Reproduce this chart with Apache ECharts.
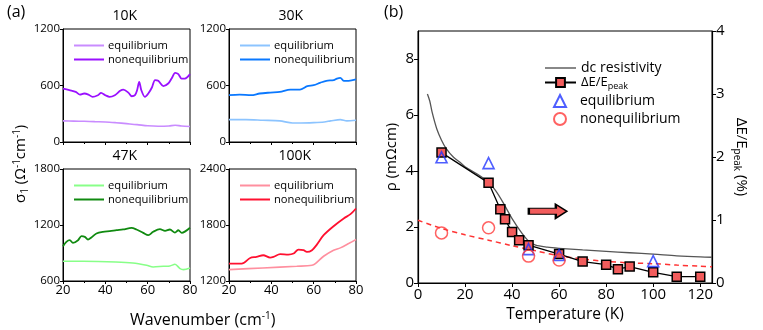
<!DOCTYPE html>
<html>
<head>
<meta charset="utf-8">
<script src="https://cdn.jsdelivr.net/npm/echarts@6/dist/echarts.min.js"></script>
<style>
  html, body { margin: 0; padding: 0; background: #fff; }
  #main { width: 763px; height: 330px; }
</style>
</head>
<body>
<div id="main"></div>
<script>
var dom = document.getElementById('main');
var myChart = echarts.init(dom);
var FONT = 'Open Sans';

// ---- panel (a): sigma_1 vs wavenumber, [wavenumber, sigma] ----
var eq10 = [[20,224],[25,222],[30,220],[35,216],[40,213],[45,205],[50,195],[55,185],[60,172],[65,167],[70,170],[73,178],[76,170],[80,165]];
var neq10 = [[20,568],[23,550],[26,532],[28,504],[30,515],[32,504],[34,479],[36.5,497],[38,522],[40,497],[42,479],[44.5,497],[47,543],[48.5,557],[51,522],[52.5,486],[54,497],[55,550],[56,639],[57,550],[58.7,479],[60.3,515],[62,579],[63.5,657],[65,650],[67.4,593],[69.7,621],[71.3,674],[73,735],[74.5,721],[76,674],[77.6,674],[80,721]];
var eq30 = [[20,238],[28,238],[36,231],[44,224],[50,202],[54,202],[60,206],[65,213],[68,224],[72.6,238],[75.7,224],[80,231]];
var neq30 = [[20,497],[25,504],[30.5,497],[34.5,515],[39.5,525],[44,532],[49,557],[53.5,557],[57,593],[60,604],[63,628],[66,650],[69.5,657],[71,674],[72.6,682],[74.2,650],[76.5,650],[80,664]];
var eq47 = [[20,811],[29.5,811],[45,804],[53,793],[59.5,768],[62.6,750],[67.4,758],[70.5,761],[72.9,779],[75.3,733],[76.9,722],[80,740]];
var neq47 = [[20,972],[21.6,1019],[23.2,1037],[24.7,1008],[27.1,1037],[28.7,1080],[30.3,1073],[31.8,1044],[33.4,1066],[35.8,1109],[38.9,1127],[42.1,1134],[45.3,1144],[48.4,1152],[52.4,1170],[54.7,1152],[57.9,1116],[60.3,1091],[62.6,1127],[65.8,1155],[68.2,1137],[70.5,1152],[72.9,1119],[74.5,1144],[76.1,1116],[80,1170]];
var eq100 = [[20,1322],[36,1340],[52,1358],[59.2,1368],[60.8,1386],[64.7,1465],[69.4,1530],[72.6,1555],[76.5,1601],[80,1644]];
var neq100 = [[20,1386],[26,1386],[30,1447],[33,1458],[36.2,1476],[39.4,1451],[41,1458],[44.2,1487],[48,1483],[50.5,1494],[52.8,1537],[55.2,1530],[56.8,1512],[59.2,1530],[61.5,1590],[64.7,1691],[69.4,1787],[74.2,1870],[77.4,1916],[80,1977]];

var panelTitles = ['10K', '30K', '47K', '100K'];
var panelYMin = [0, 0, 600, 1200];
var panelYMax = [1200, 1200, 1800, 2400];
var panelEq = [eq10, eq30, eq47, eq100];
var panelNeq = [neq10, neq30, neq47, neq100];
var eqColors = ['#c98cff', '#8cc4ff', '#88ff88', '#ff8f9f'];
var neqColors = ['#9a10ff', '#0a78ff', '#108a10', '#ff1030'];

// ---- panel (b) ----
var dcT = [4,5,6,8,10,12,15,18,20,25,30,33,36,40,44,47,50,55,60,70,80,90,100,110,120,125];
var dcRho = [6.75,6.5,6.1,5.5,5.1,4.8,4.5,4.3,4.15,3.9,3.6,3.3,2.9,2.3,1.8,1.5,1.35,1.28,1.24,1.18,1.13,1.08,1.03,0.97,0.93,0.92];
var peakT = [10,30,35,37,40,43,47,60,70,80,85,90,100,110,120];
var peakVal = [2.07,1.59,1.17,1.01,0.81,0.68,0.60,0.46,0.34,0.29,0.22,0.26,0.17,0.10,0.10];
var eqT = [10,30,47,60,100];
var eqRho = [4.49,4.28,1.21,1.0,0.78];
var neqT = [10,30,47,60];
var neqRho = [1.79,1.97,0.96,0.82];
var fitT = [0,10,20,30,40,50,60,70,80,90,100,110,120,125];
var fitRho = [2.24,1.95,1.72,1.53,1.33,1.15,0.97,0.86,0.77,0.72,0.69,0.64,0.6,0.58];

function zip(a, b) {
    return a.map(function (v, i) { return [v, b[i]]; });
}
function plain(v) { return String(v); }

var LINE_ICON = 'path://M0,0 L30,0 L30,2 L0,2 Z';

var gridPos = [
    { left: 63, top: 29, width: 127, height: 113 },
    { left: 229, top: 29, width: 127, height: 113 },
    { left: 63, top: 169, width: 127, height: 112 },
    { left: 229, top: 169, width: 127, height: 112 }
];

var grids = [], xAxes = [], yAxes = [], series = [], legends = [], graphics = [];

gridPos.forEach(function (g, i) {
    grids.push({
        left: g.left, top: g.top, width: g.width, height: g.height,
        show: true, borderColor: '#000', borderWidth: 1, backgroundColor: 'transparent'
    });
    xAxes.push({
        type: 'value', gridIndex: i, min: 20, max: 80, interval: 20,
        axisLine: { show: true, onZero: false, lineStyle: { color: '#000' } },
        axisTick: { show: true, length: 3, lineStyle: { color: '#000' } },
        minorTick: { show: true, splitNumber: 2, length: 2, lineStyle: { color: '#000' } },
        axisLabel: { show: i >= 2, color: '#000', fontSize: 13, fontFamily: FONT, margin: 3, formatter: plain },
        splitLine: { show: false }
    });
    yAxes.push({
        type: 'value', gridIndex: i, min: panelYMin[i], max: panelYMax[i], interval: 600,
        axisLine: { show: true, lineStyle: { color: '#000' } },
        axisTick: { show: true, length: 3, lineStyle: { color: '#000' } },
        axisLabel: { color: '#000', fontSize: 11.5, fontFamily: FONT, margin: 3, formatter: plain },
        splitLine: { show: false }
    });
    series.push({
        type: 'line', name: 'eq' + i, xAxisIndex: i, yAxisIndex: i,
        data: panelEq[i], showSymbol: false, symbol: 'none', smooth: 0.3,
        lineStyle: { color: eqColors[i], width: 1.6 }, itemStyle: { color: eqColors[i] }
    });
    series.push({
        type: 'line', name: 'neq' + i, xAxisIndex: i, yAxisIndex: i,
        data: panelNeq[i], showSymbol: false, symbol: 'none', smooth: 0.3,
        lineStyle: { color: neqColors[i], width: 1.8 }, itemStyle: { color: neqColors[i] }
    });
    legends.push({
        orient: 'vertical', left: g.left + 6, top: g.top + 6,
        data: [{ name: 'eq' + i, icon: LINE_ICON }, { name: 'neq' + i, icon: LINE_ICON }],
        itemWidth: 30, itemHeight: 10, itemGap: 3,
        selectedMode: false,
        formatter: function (n) { return n.indexOf('neq') === 0 ? 'nonequilibrium' : 'equilibrium'; },
        textStyle: { color: '#000', fontSize: 11.2, fontFamily: FONT, padding: [0, 0, 0, -1] }
    });
    graphics.push({
        type: 'text', left: g.left + g.width / 2 - 14, top: g.top - 20,
        style: { text: panelTitles[i], fill: '#000', font: '14px "Open Sans"' }
    });
});

// panel (b) grid
grids.push({ left: 418, top: 31, width: 294, height: 252, show: true, borderColor: '#000', borderWidth: 1, backgroundColor: 'transparent' });
xAxes.push({
    type: 'value', gridIndex: 4, min: 0, max: 125, interval: 20,
    name: 'Temperature (K)', nameLocation: 'middle', nameGap: 23,
    nameTextStyle: { color: '#000', fontSize: 15.5, fontFamily: FONT },
    axisLine: { show: true, onZero: false, lineStyle: { color: '#000', width: 1.2 } },
    axisTick: { show: true, length: 4, lineStyle: { color: '#000' } },
    axisLabel: { color: '#000', fontSize: 15, fontFamily: FONT, margin: 4, showMaxLabel: false },
    splitLine: { show: false }
});
yAxes.push({
    type: 'value', gridIndex: 4, min: 0, max: 9, interval: 2,
    name: 'ρ (mΩcm)', nameLocation: 'middle', nameGap: 19,
    nameTextStyle: { color: '#000', fontSize: 15, fontFamily: FONT },
    axisLine: { show: true, onZero: false, lineStyle: { color: '#000', width: 1.2 } },
    axisTick: { show: true, length: 4, lineStyle: { color: '#000' } },
    axisLabel: { color: '#000', fontSize: 15, fontFamily: FONT, margin: 4, showMaxLabel: false },
    splitLine: { show: false }
});
yAxes.push({
    type: 'value', gridIndex: 4, position: 'right', min: 0, max: 4, interval: 1,
    name: '{a|ΔE/E}{s|peak}{a| (%)}', nameLocation: 'middle', nameGap: 20, nameRotate: -90,
    nameTextStyle: {
        color: '#000', fontFamily: FONT,
        rich: {
            a: { fontSize: 15, fontFamily: FONT, color: '#000' },
            s: { fontSize: 10, fontFamily: FONT, color: '#000', padding: [9, 0, 0, 0] }
        }
    },
    axisLine: { show: true, onZero: false, lineStyle: { color: '#000', width: 1.2 } },
    axisTick: { show: true, length: 4, lineStyle: { color: '#000' } },
    axisLabel: { color: '#000', fontSize: 15, fontFamily: FONT, margin: 4 },
    splitLine: { show: false }
});

series.push({
    type: 'line', name: 'fit', xAxisIndex: 4, yAxisIndex: 4,
    data: zip(fitT, fitRho), showSymbol: false, symbol: 'none', smooth: 0.3,
    lineStyle: { color: '#ff3333', width: 1.5, type: [5, 4] }, z: 2
});
series.push({
    type: 'line', name: 'dc', xAxisIndex: 4, yAxisIndex: 4,
    data: zip(dcT, dcRho), showSymbol: false, symbol: 'none', smooth: 0.3,
    lineStyle: { color: '#555', width: 1.3 }, itemStyle: { color: '#555' }, z: 3,
    markPoint: {
        symbol: 'path://M0,4 L27,4 L27,0 L38,7 L27,14 L27,10 L0,10 Z',
        symbolSize: [38, 14],
        itemStyle: { color: '#f25c5c', borderColor: '#000', borderWidth: 1.5 },
        label: { show: false },
        data: [{ coord: [55.2, 2.56] }]
    }
});
series.push({
    type: 'line', name: 'peak', xAxisIndex: 4, yAxisIndex: 5,
    data: zip(peakT, peakVal), symbol: 'rect', symbolSize: 9, showSymbol: true,
    lineStyle: { color: '#000', width: 1.3 },
    itemStyle: { color: '#f25c5c', borderColor: '#000', borderWidth: 1.5 }, z: 5
});
series.push({
    type: 'scatter', name: 'eq', xAxisIndex: 4, yAxisIndex: 4,
    data: zip(eqT, eqRho), symbol: 'triangle', symbolSize: 11,
    itemStyle: { color: 'rgba(255,255,255,0)', borderColor: '#2236ff', borderWidth: 1.6 }, z: 6
});
series.push({
    type: 'scatter', name: 'neq', xAxisIndex: 4, yAxisIndex: 4,
    data: zip(neqT, neqRho), symbol: 'circle', symbolSize: 12,
    itemStyle: { color: 'rgba(255,255,255,0)', borderColor: '#ff3b3b', borderWidth: 1.5 }, z: 6
});

var legendNames = { dc: 'dc resistivity', peak: '{n|ΔE/E}{s|peak}', eq: 'equilibrium', neq: 'nonequilibrium' };
var legendText = {
    color: '#000', fontSize: 14, fontFamily: FONT,
    rich: {
        n: { fontSize: 13, fontFamily: FONT, color: '#000' },
        s: { fontSize: 9, fontFamily: FONT, color: '#000', padding: [7, 0, 0, 0] }
    }
};
legends.push({
    orient: 'vertical', left: 539, top: 56,
    data: [{ name: 'dc', icon: 'path://M0,0 L31,0 L31,1.4 L0,1.4 Z' }, 'peak'],
    itemWidth: 31, itemHeight: 11, itemGap: 1,
    selectedMode: false,
    formatter: function (n) { return legendNames[n]; },
    textStyle: legendText
});
legends.push({
    orient: 'vertical', left: 548, top: 89,
    data: ['eq', 'neq'], itemWidth: 12, itemHeight: 12, itemGap: 4,
    selectedMode: false,
    formatter: function (n) { return legendNames[n]; },
    textStyle: Object.assign({}, legendText, { padding: [0, 0, 0, 9] })
});

// shared labels for panel (a) and panel letters
graphics.push({
    type: 'text', left: 7, top: 4,
    style: { text: '(a)', fill: '#000', font: '16px "Open Sans"' }
});
graphics.push({
    type: 'text', left: 384, top: 4,
    style: { text: '(b)', fill: '#000', font: '16px "Open Sans"' }
});
graphics.push({
    type: 'text', left: 130, top: 311,
    style: {
        text: '{a|Wavenumber (cm}{u|-1}{a|)}',
        rich: {
            a: { fontSize: 16, fontFamily: FONT, fill: '#000' },
            u: { fontSize: 10, fontFamily: FONT, fill: '#000', padding: [0, 0, 8, 0] }
        }
    }
});
graphics.push({
    type: 'text', x: 12, y: 203, rotation: Math.PI / 2,
    style: {
        text: '{a|σ}{d|1}{a| (Ω}{u|-1}{a|cm}{u|-1}{a|)}',
        rich: {
            a: { fontSize: 15, fontFamily: FONT, fill: '#000' },
            d: { fontSize: 10, fontFamily: FONT, fill: '#000', padding: [8, 0, 0, 0] },
            u: { fontSize: 10, fontFamily: FONT, fill: '#000', padding: [0, 0, 8, 0] }
        }
    }
});

myChart.setOption({
    animation: false,
    textStyle: { fontFamily: FONT },
    grid: grids,
    xAxis: xAxes,
    yAxis: yAxes,
    legend: legends,
    graphic: graphics,
    series: series
});
</script>
</body>
</html>
